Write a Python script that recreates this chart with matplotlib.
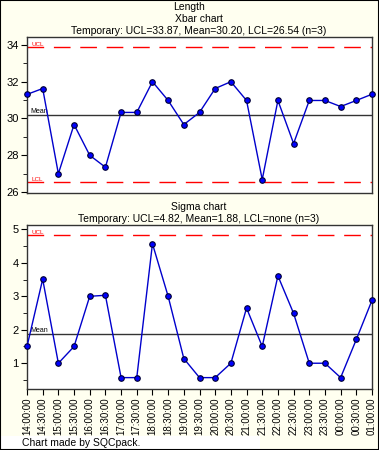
import matplotlib
matplotlib.use("Agg")
import matplotlib.pyplot as plt
from matplotlib.patches import Rectangle
from matplotlib.ticker import MultipleLocator

plt.rcParams['font.family'] = ['Liberation Sans', 'DejaVu Sans']

times = ["14:00:00", "14:30:00", "15:00:00", "15:30:00", "16:00:00", "16:30:00",
         "17:00:00", "17:30:00", "18:00:00", "18:30:00", "19:00:00", "19:30:00",
         "20:00:00", "20:30:00", "21:00:00", "21:30:00", "22:00:00", "22:30:00",
         "23:00:00", "23:30:00", "00:00:00", "00:30:00", "01:00:00"]
xbar = [31.31, 31.63, 27.00, 29.67, 28.00, 27.35, 30.33, 30.33, 32.00, 30.98,
        29.67, 30.33, 31.63, 32.00, 30.98, 26.68, 30.98, 28.64, 30.98, 30.98,
        30.65, 30.98, 31.32]
sigma = [1.50, 3.51, 1.00, 1.50, 3.00, 3.03, 0.57, 0.57, 4.57, 3.00,
         1.14, 0.57, 0.57, 1.00, 2.65, 1.50, 3.61, 2.49, 1.00, 1.00,
         0.57, 1.71, 2.88]
xbar_ucl, xbar_mean, xbar_lcl = 33.87, 30.20, 26.54
sig_ucl, sig_mean = 4.82, 1.88

W, H = 379, 450
bg = '#FFFFF0'
fig = plt.figure(figsize=(W / 100, H / 100), dpi=100, facecolor=bg)


def box(left, top, right, bottom):
    return [left / W, 1 - bottom / H, (right - left) / W, (bottom - top) / H]


def control_chart(ax, vals, ucl, mean, lcl, ylim, major):
    xs = range(len(vals))
    ax.set_facecolor('white')
    ax.axhline(ucl, color='#FF0000', lw=1, dashes=(12, 7))
    ax.text(0.3, ucl, 'UCL', color='#FF0000', fontsize=4.5, va='bottom', ha='left')
    ax.axhline(mean, color='#333333', lw=1)
    ax.text(0.2, mean, 'Mean', color='black', fontsize=5, va='bottom', ha='left')
    if lcl is not None:
        ax.axhline(lcl, color='#FF0000', lw=1, dashes=(12, 7))
        ax.text(0.3, lcl, 'LCL', color='#FF0000', fontsize=4.5, va='bottom', ha='left')
    ax.plot(xs, vals, color='#0000CC', lw=1, marker='o', ms=4,
            mfc='#0000FF', mec='#000033', mew=0.8, clip_on=False, zorder=5)
    ax.set_xlim(0, len(vals) - 1)
    ax.set_ylim(*ylim)
    ax.yaxis.set_major_locator(MultipleLocator(major))
    ax.yaxis.set_minor_locator(MultipleLocator(major / 2))
    ax.tick_params(axis='y', which='major', length=4, labelsize=8, pad=2)
    ax.tick_params(axis='y', which='minor', length=3)
    for s in ax.spines.values():
        s.set_color('#333333')
        s.set_linewidth(1)


ax1 = fig.add_axes(box(27, 37, 372, 193))
control_chart(ax1, xbar, xbar_ucl, xbar_mean, xbar_lcl, (25.95, 34.43), 2)
ax1.set_xticks([])

ax2 = fig.add_axes(box(27, 225, 372, 389))
control_chart(ax2, sigma, sig_ucl, sig_mean, None, (0.23, 5.13), 1)
ax2.set_xticks(range(len(times)))
ax2.set_xticklabels(times, rotation=90, fontsize=7)
ax2.tick_params(axis='x', length=4, pad=2)

fs = 7.5
fig.text(189 / W, 1 - 7 / H, 'Length', ha='center', va='center', fontsize=fs)
fig.text(199 / W, 1 - 19 / H, 'Xbar chart', ha='center', va='center', fontsize=fs)
fig.text(199 / W, 1 - 31 / H,
         'Temporary: UCL=%.2f, Mean=%.2f, LCL=%.2f (n=3)' % (xbar_ucl, xbar_mean, xbar_lcl),
         ha='center', va='center', fontsize=fs)
fig.text(199 / W, 1 - 207 / H, 'Sigma chart', ha='center', va='center', fontsize=fs)
fig.text(199 / W, 1 - 219 / H,
         'Temporary: UCL=%.2f, Mean=%.2f, LCL=none (n=3)' % (sig_ucl, sig_mean),
         ha='center', va='center', fontsize=fs)

fig.patches.append(Rectangle((1 / W, 0), 259 / W, 14 / H, transform=fig.transFigure,
                             facecolor='white', edgecolor='none', zorder=0))
fig.text(22 / W, 1 - 443 / H, 'Chart made by SQCpack.', ha='left', va='center', fontsize=fs)
fig.patches.append(Rectangle((0, 0), 1, 1, transform=fig.transFigure, fill=False,
                             edgecolor='black', linewidth=1.5))

fig.savefig('out.png', dpi=100, facecolor=bg)
